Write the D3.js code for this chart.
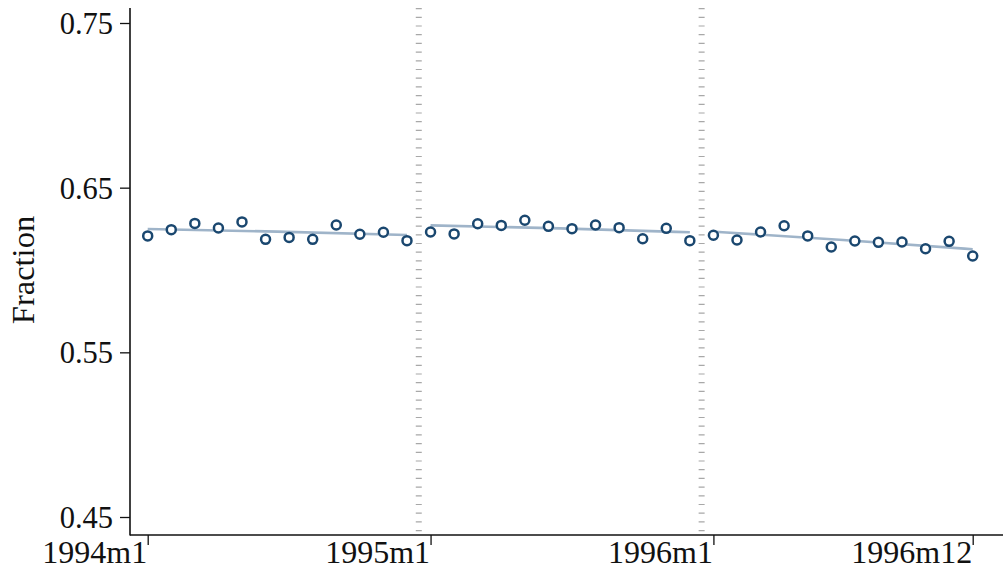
<!DOCTYPE html>
<html>
<head>
<meta charset="utf-8">
<script src="https://cdn.jsdelivr.net/npm/d3@7"></script>
<style>
  body { margin: 0; background: #fff; }
  svg text { font-family: "Liberation Serif", "Times New Roman", serif; fill: #111; }
</style>
</head>
<body>
<svg width="1003" height="574"></svg>
<script>
// monthly fraction, 1994m1 .. 1996m12
const months = d3.range(36);
const frac = [
  0.6207, 0.6245, 0.6283, 0.6255, 0.6292, 0.6186, 0.6198, 0.6186, 0.6273, 0.6217, 0.6229, 0.6178,
  0.6231, 0.6219, 0.6281, 0.6271, 0.6302, 0.6265, 0.6251, 0.6273, 0.6257, 0.6190, 0.6253, 0.6178,
  0.6211, 0.6182, 0.6231, 0.6269, 0.6207, 0.6140, 0.6176, 0.6168, 0.6170, 0.6129, 0.6174, 0.6085
];
// fitted line per year (month index, value)
const fit1994 = [[0, 0.6249], [5.5, 0.6233], [11, 0.6213]];
const fit1995 = [[12, 0.6271], [17.5, 0.6253], [23, 0.6229]];
const fit1996 = [[24, 0.6233], [29.5, 0.6182], [35, 0.6126]];
const breaks = [11.5, 23.5];
const yTicks = [0.45, 0.55, 0.65, 0.75];
const xTicks = [0, 12, 24, 35];
const xTickLabels = ["1994m1", "1995m1", "1996m1", "1996m12"];

const svg = d3.select("svg");
const axisY = 535, axisX = 130;

const x = d3.scaleLinear().domain([0, 35]).range([147.7, 972.7]);
const y = d3.scaleLinear().domain([0.45, 0.75]).range([517, 23]);

// dotted break lines
svg.selectAll("line.brk")
  .data(breaks)
  .enter()
  .append("line")
  .attr("class", "brk")
  .attr("x1", d => x(d)).attr("x2", d => x(d))
  .attr("y1", 8).attr("y2", axisY)
  .attr("stroke", "#a8a8a8")
  .attr("stroke-width", 6)
  .attr("stroke-dasharray", "1.2 7.5");

// fitted lines
const fitLine = d3.line()
  .x(d => x(d[0]))
  .y(d => y(d[1]))
  .curve(d3.curveNatural);

svg.selectAll("path.fit")
  .data([fit1994, fit1995, fit1996])
  .enter()
  .append("path")
  .attr("class", "fit")
  .attr("d", fitLine)
  .attr("fill", "none")
  .attr("stroke", "#9fb4c9")
  .attr("stroke-width", 2.6);

// points
svg.selectAll("circle.pt")
  .data(months)
  .enter()
  .append("circle")
  .attr("class", "pt")
  .attr("cx", d => x(d))
  .attr("cy", d => y(frac[d]))
  .attr("r", 4.5)
  .attr("fill", "#fff")
  .attr("stroke", "#1a476f")
  .attr("stroke-width", 2.5);

// y axis
const gy = svg.append("g")
  .attr("transform", "translate(" + axisX + ",0)")
  .call(d3.axisLeft(y).tickValues(yTicks).tickSize(10).tickPadding(7)
    .tickFormat(d3.format(".2f")));
gy.select(".domain").remove();
gy.selectAll(".tick line").attr("stroke", "#111").attr("stroke-width", 1.3);
gy.selectAll(".tick text").style("font-size", "30.5px").attr("dy", "0.34em");

// x axis
const gx = svg.append("g")
  .attr("transform", "translate(0," + axisY + ")")
  .call(d3.axisBottom(x).tickValues(xTicks).tickSize(10)
    .tickFormat((d, i) => xTickLabels[i]));
gx.select(".domain").remove();
gx.selectAll(".tick line").attr("stroke", "#111").attr("stroke-width", 1.3);
gx.selectAll(".tick text")
  .style("font-size", "32px")
  .attr("text-anchor", "end")
  .attr("x", -1)
  .attr("y", 28)
  .attr("dy", 0);

// axis lines
svg.append("line")
  .attr("x1", axisX).attr("x2", axisX)
  .attr("y1", 8).attr("y2", axisY + 0.6)
  .attr("stroke", "#111").attr("stroke-width", 1.6);
svg.append("line")
  .attr("x1", axisX).attr("x2", 1003)
  .attr("y1", axisY).attr("y2", axisY)
  .attr("stroke", "#111").attr("stroke-width", 1.6);

// y title
svg.append("text")
  .attr("transform", "translate(34,270) rotate(-90)")
  .attr("text-anchor", "middle")
  .style("font-size", "32.5px")
  .text("Fraction");
</script>
</body>
</html>
